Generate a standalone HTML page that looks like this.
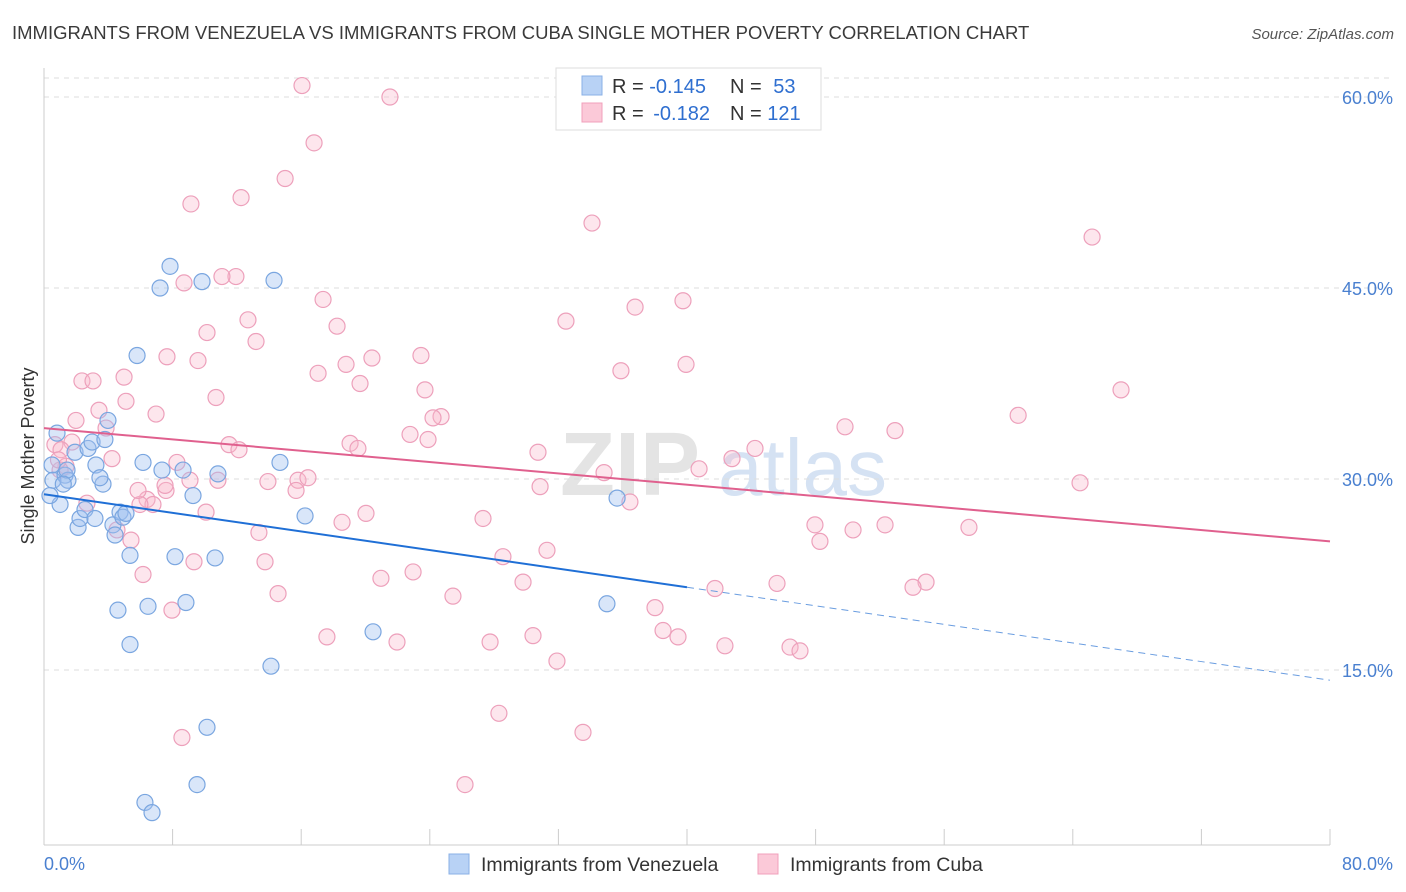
<!DOCTYPE html>
<html><head><meta charset="utf-8"><style>
body{margin:0;background:#fff;font-family:"Liberation Sans",sans-serif}
svg{display:block}
</style></head><body>
<svg id="c" width="1406" height="892" xmlns="http://www.w3.org/2000/svg">
<text x="12" y="39" font-size="18.5" fill="#3a3a3a">IMMIGRANTS FROM VENEZUELA VS IMMIGRANTS FROM CUBA SINGLE MOTHER POVERTY CORRELATION CHART</text>
<text x="1394" y="39" font-size="15" fill="#555" font-style="italic" text-anchor="end">Source: ZipAtlas.com</text>
<text x="560" y="495" font-size="90" fill="#e4e4e4" font-weight="bold">ZIP</text>
<text x="718" y="495" font-size="80" fill="#d5e2f3">atlas</text>
<g id="grid"></g>
<line x1="44" y1="68" x2="44" y2="845" stroke="#ccc"/>
<line x1="44" y1="845" x2="1330" y2="845" stroke="#ccc"/>
<text transform="translate(34,456) rotate(-90)" font-size="18" fill="#333" text-anchor="middle">Single Mother Poverty</text>
<text x="44" y="870" font-size="18" fill="#4a80d0">0.0%</text>
<text x="1393" y="870" font-size="18" fill="#4a80d0" text-anchor="end">80.0%</text>
<g id="pts"></g>
<g id="lines"></g>
<g>
<rect x="556" y="68" width="265" height="62" fill="#fff" stroke="#ddd"/>
<rect x="582" y="76" width="20" height="19" fill="#b8d2f5" stroke="#8ab0e6"/>
<rect x="582" y="103" width="20" height="19" fill="#fbc9d8" stroke="#f0a0bb"/>
<text x="612" y="93" font-size="20" fill="#333">R = <tspan fill="#2f6fd0">-0.145</tspan></text>
<text x="730" y="93" font-size="20" fill="#333">N = <tspan fill="#2f6fd0" dx="6">53</tspan></text>
<text x="612" y="120" font-size="20" fill="#333">R = <tspan fill="#2f6fd0" dx="4">-0.182</tspan></text>
<text x="730" y="120" font-size="20" fill="#333">N = <tspan fill="#2f6fd0">121</tspan></text>
</g>
<g>
<rect x="449" y="854" width="20" height="20" fill="#b8d2f5" stroke="#8ab0e6"/>
<text x="481" y="871" font-size="19.5" fill="#333">Immigrants from Venezuela</text>
<rect x="758" y="854" width="20" height="20" fill="#fbc9d8" stroke="#f0a0bb"/>
<text x="790" y="871" font-size="19.5" fill="#333">Immigrants from Cuba</text>
</g>
</svg>
<script>
const yTicks=[15,30,45,60];
const xTicks=[8,16,24,32,40,48,56,64,72,80];
const blueX=[0.81,0.5,0.56,1.0,1.31,1.49,1.43,1.93,2.12,2.24,2.55,2.74,2.99,3.23,3.67,3.48,3.79,3.98,4.29,4.42,4.73,4.91,5.10,5.35,4.60,5.35,5.79,6.16,6.47,6.28,6.72,7.22,7.34,7.84,8.15,8.65,8.83,9.27,9.52,9.83,10.14,10.64,10.82,14.12,14.31,14.68,16.24,20.47,35.02,35.65,0.37,3.17,1.2];
const blueY=[33.6,31.1,29.9,28.0,30.3,29.9,30.7,32.1,26.2,26.9,27.6,32.4,32.9,31.1,29.6,30.1,33.1,34.6,26.4,25.6,27.4,27.0,27.3,24.0,19.7,17.0,39.7,31.3,20.0,4.6,3.8,45.0,30.7,46.7,23.9,30.7,20.3,28.7,6.0,45.5,10.5,23.8,30.4,15.3,45.6,31.3,27.1,18.0,20.2,28.5,28.7,26.9,29.6];
const pinkX=[16.05,21.52,16.8,15.0,12.26,9.14,34.09,65.2,11.94,11.07,8.71,39.75,36.77,17.36,12.69,32.47,18.23,10.14,13.19,23.45,20.4,18.79,7.65,9.58,17.05,35.89,39.94,2.36,3.05,4.98,19.66,23.7,67.0,10.7,5.1,3.42,1.99,6.97,24.7,24.2,60.6,3.86,1.74,11.51,22.77,23.89,19.04,19.53,12.13,49.83,52.94,30.73,44.23,0.68,1.06,1.37,4.23,8.27,42.8,34.84,40.75,10.82,13.93,15.8,16.42,15.68,64.45,30.86,7.59,9.08,36.45,1.0,2.67,6.41,6.78,5.97,7.53,5.85,10.08,20.03,18.54,27.31,47.96,52.32,50.33,57.54,13.37,4.54,5.41,48.27,31.29,28.55,9.33,13.75,6.16,22.96,20.96,29.8,45.6,54.87,54.06,41.74,14.56,25.44,38.01,7.96,38.51,17.6,30.42,39.44,21.96,27.75,42.36,46.41,47.03,31.91,28.3,33.53,8.58,26.19,0.9];
const pinkY=[60.9,60.0,56.4,53.6,52.1,51.6,50.1,49.0,45.9,45.9,45.4,44.0,43.5,44.1,42.5,42.4,42.0,41.5,40.8,39.7,39.5,39.0,39.6,39.3,38.3,38.5,39.0,37.7,37.7,38.0,37.5,37.0,37.0,36.4,36.1,35.4,34.6,35.1,34.9,34.8,35.0,34.0,32.9,32.7,33.5,33.1,32.8,32.4,32.3,34.1,33.8,32.1,32.4,32.7,32.3,31.0,31.6,31.3,31.6,30.5,30.8,29.9,29.8,29.9,30.1,29.1,29.7,29.4,29.1,29.9,28.2,30.7,28.1,28.4,28.0,28.0,29.5,29.1,27.4,27.3,26.6,26.9,26.4,26.4,26.0,26.2,25.8,26.0,25.2,25.1,24.4,23.9,23.5,23.5,22.5,22.7,22.2,21.9,21.8,21.9,21.5,21.4,21.0,20.8,19.9,19.7,18.1,17.6,17.7,17.6,17.2,17.2,16.9,16.8,16.5,15.7,11.6,10.1,9.7,6.0,31.5];
const blueFit=[28.8,14.2];
const pinkFit=[34.0,25.1];
const X=v=>44+v*1286/80;
const Y=v=>861-v*191/15;
const NS='http://www.w3.org/2000/svg';
function mk(tag,attrs,parent){const e=document.createElementNS(NS,tag);for(const k in attrs)e.setAttribute(k,attrs[k]);document.getElementById(parent).appendChild(e);return e;}
const lt=mk('line',{x1:44,x2:1393,y1:78,y2:78,stroke:'#ddd','stroke-dasharray':'5,5'},'grid');


yTicks.forEach(t=>{
 const l=mk('line',{x1:44,x2:1393,y1:Y(t),y2:Y(t),stroke:'#ddd','stroke-dasharray':'5,5'},'grid');
 
 
 const tx=mk('text',{x:1393,y:Y(t)+7,'font-size':18,fill:'#4a80d0','text-anchor':'end'},'grid');
 tx.textContent=t.toFixed(1)+'%';
 
 
});
xTicks.forEach(t=>{
 const l=mk('line',{x1:X(t),x2:X(t),y1:829,y2:845,stroke:'#ccc'},'grid');
 
 
});
pinkX.forEach((v,i)=>{
 const c=mk('circle',{cx:X(v),cy:Y(pinkY[i]),r:8,fill:'rgba(248,182,204,0.35)',stroke:'#eda0bb','stroke-width':1.2},'pts');
 
 
});
blueX.forEach((v,i)=>{
 const c=mk('circle',{cx:X(v),cy:Y(blueY[i]),r:8,fill:'rgba(160,192,240,0.4)',stroke:'#7aa6e0','stroke-width':1.2},'pts');
 
 
});
const by=x=>blueFit[0]+(blueFit[1]-blueFit[0])*x/80;
const bl=mk('line',{x1:X(0),y1:Y(by(0)),x2:X(40),y2:Y(by(40)),stroke:'#1f6fd6','stroke-width':2},'lines');


const bd=mk('line',{x1:X(40),y1:Y(by(40)),x2:X(80),y2:Y(by(80)),stroke:'#6a9de0','stroke-width':1,'stroke-dasharray':'7,5'},'lines');


const pl=mk('line',{x1:X(0),y1:Y(pinkFit[0]),x2:X(80),y2:Y(pinkFit[1]),stroke:'#e0608e','stroke-width':2},'lines');


</script>
</body></html>
